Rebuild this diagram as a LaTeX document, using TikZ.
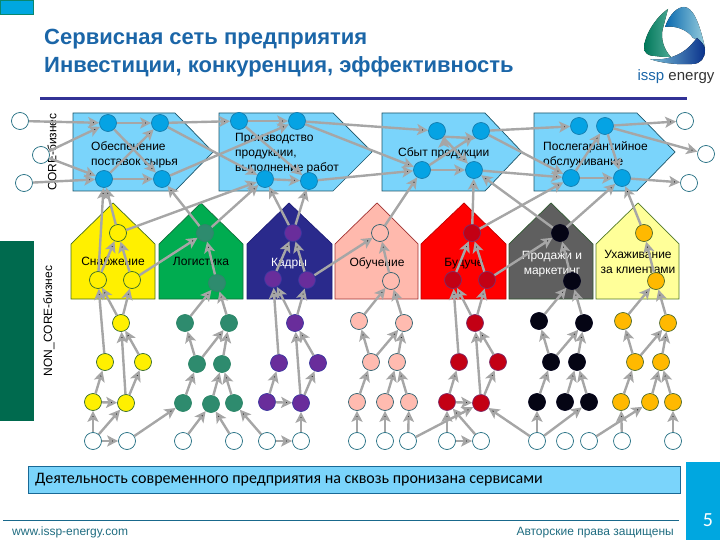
\documentclass[tikz,border=0pt]{standalone}
\usepackage{fontspec}
\setmainfont{Liberation Sans}
\newfontfamily\barfont{Carlito}
\usetikzlibrary{positioning,shapes,arrows.meta}

\definecolor{coreblue}{HTML}{7AD4FB}
\definecolor{coredot}{HTML}{05A3E4}
\definecolor{linegray}{HTML}{A6A6A6}
\definecolor{titleblue}{HTML}{1B66A8}
\definecolor{ringline}{HTML}{1F6C80}

\begin{document}
\begin{tikzpicture}[x=1pt,y=-1pt,
  on grid,
  corebox/.style={draw={rgb,255:red,30; green,85; blue,105},fill=coreblue,line width=0.7pt},
  house/.style={line width=0.7pt},
  dot/.style={circle,draw,minimum size=17pt,inner sep=0pt,line width=0.7pt},
  ring/.style={dot,draw=ringline,fill=white},
  coredotn/.style={dot,draw={rgb,255:red,20; green,125; blue,175},fill=coredot},
  yel/.style={dot,draw={rgb,255:red,50; green,105; blue,45},fill={rgb,255:red,255; green,240; blue,0}},
  grn/.style={dot,draw={rgb,255:red,45; green,135; blue,105},fill={rgb,255:red,46; green,139; blue,110}},
  pur/.style={dot,draw={rgb,255:red,60; green,55; blue,160},fill={rgb,255:red,105; green,45; blue,155}},
  pnk/.style={dot,draw={rgb,255:red,45; green,95; blue,110},fill={rgb,255:red,255; green,187; blue,176}},
  rdd/.style={dot,draw={rgb,255:red,125; green,45; blue,105},fill={rgb,255:red,195; green,0; blue,20}},
  blk/.style={dot,draw={rgb,255:red,5; green,5; blue,30},fill={rgb,255:red,5; green,5; blue,20}},
  org/.style={dot,draw={rgb,255:red,75; green,105; blue,45},fill={rgb,255:red,255; green,185; blue,0}},
  boxtext/.style={font=\fontsize{12}{15}\selectfont,align=left,anchor=west,inner sep=0pt},
  housetext/.style={font=\fontsize{12}{15}\selectfont,align=center,inner sep=0pt},
  houseone/.style={housetext,anchor=base},
  conn/.style={draw=linegray,line width=2.4pt,-{Stealth[length=11pt,width=11pt,inset=2.5pt]}}]
\useasboundingbox (0,0) rectangle (720,540);

% frame of the slide
\node[draw={rgb,255:red,10; green,135; blue,110},fill={rgb,255:red,0; green,167; blue,224},minimum width=33pt,minimum height=14pt,inner sep=0pt,anchor=north west] (corner) at (0,0) {};
\node[fill={rgb,255:red,0; green,106; blue,78},minimum width=34pt,minimum height=180pt,inner sep=0pt,anchor=north west] (noncorebar) at (0,241) {};
\node[font=\bfseries\fontsize{22}{28}\selectfont,text=titleblue,align=left,anchor=north west,inner sep=0pt] (title) at (44,29) {Сервисная сеть предприятия\\Инвестиции, конкуренция, эффективность};
\coordinate (headl) at (40,99);
\coordinate (headr) at (687,99);
\draw[line width=3pt,draw={rgb,255:red,50; green,50; blue,150}] (headl) -- (headr);
\node[rotate=90,font=\fontsize{12}{13}\selectfont,inner sep=0pt] (corelabel) at (52,152) {CORE-бизнес};
\node[rotate=90,font=\fontsize{12}{13}\selectfont,inner sep=0pt] (noncorelabel) at (49,321) {NON\_CORE-бизнес};

% logo
\fill[left color={rgb,255:red,10; green,105; blue,175},right color={rgb,255:red,150; green,205; blue,220}] (665,27) .. controls (670,13) and (678,7) .. (684,7) .. controls (692,7) and (699,20) .. (705,48) .. controls (702,42) and (698,39) .. (693,38) .. controls (688,30) and (675,25) .. (665,27) -- cycle;
\fill[left color={rgb,255:red,0; green,120; blue,90},right color={rgb,255:red,80; green,170; blue,150}] (668,9) .. controls (655,18) and (645,35) .. (644,47) .. controls (644,53) and (648,56) .. (655,56) .. controls (662,57) and (667,57) .. (671,57) .. controls (664,50) and (660,38) .. (663,28) -- (668,9) -- cycle;
\fill[left color={rgb,255:red,120; green,190; blue,215},right color={rgb,255:red,10; green,50; blue,140}] (650,59) .. controls (665,61) and (680,56) .. (690,46) .. controls (693,43) and (695,40) .. (697,38) .. controls (702,42) and (705,46) .. (705,50) .. controls (705,58) and (701,64) .. (692,64) .. controls (678,65) and (660,63) .. (650,59) -- cycle;
\node[font=\fontsize{15}{17}\selectfont,inner sep=0pt,anchor=base] (logotext) at (676,81) {\textcolor{titleblue}{issp} \textcolor{black!80}{energy}};

% core boxes
\draw[corebox] (73,113) -- (175,113) -- (213,152) -- (175,191) -- (73,191) -- cycle;
\draw[corebox] (219,113) -- (333,113) -- (372,152) -- (333,191) -- (219,191) -- cycle;
\draw[corebox] (382,113) -- (485,113) -- (522,152) -- (485,191) -- (382,191) -- cycle;
\draw[corebox] (534,113) -- (637,113) -- (675,152) -- (637,191) -- (534,191) -- cycle;
\node[boxtext] (lab1) at (91,154.5) {Обеспечение\\поставок сырья};
\node[boxtext] (lab2) at (235,153.5) {Производство\\продукции,\\выполнение работ};
\node[boxtext] (lab3) at (398,153) {Сбыт продукции};
\node[boxtext] (lab4) at (543,154.5) {Послегарантийное\\обслуживание};

% houses
\draw[house,draw={rgb,255:red,70; green,110; blue,30},fill={rgb,255:red,255; green,240; blue,0}] (71,299) -- (71,244) -- (113,203) -- (155,244) -- (155,299) -- cycle;
\draw[house,draw={rgb,255:red,20; green,110; blue,60},fill={rgb,255:red,0; green,172; blue,80}] (159,299) -- (159,244) -- (201,203) -- (243,244) -- (243,299) -- cycle;
\draw[house,draw={rgb,255:red,30; green,30; blue,120},fill={rgb,255:red,42; green,42; blue,140}] (247,299) -- (247,244) -- (289,203) -- (332,244) -- (332,299) -- cycle;
\draw[house,draw={rgb,255:red,160; green,50; blue,50},fill={rgb,255:red,255; green,185; blue,173}] (335,299) -- (335,244) -- (377,203) -- (418,244) -- (418,299) -- cycle;
\draw[house,draw={rgb,255:red,190; green,0; blue,0},fill=red] (421,299) -- (421,244) -- (464,203) -- (506,244) -- (506,299) -- cycle;
\draw[house,draw={rgb,255:red,50; green,90; blue,50},fill={rgb,255:red,95; green,95; blue,95}] (509,299) -- (509,244) -- (551,203) -- (593,244) -- (593,299) -- cycle;
\draw[house,draw={rgb,255:red,80; green,120; blue,40},fill={rgb,255:red,255; green,255; blue,153}] (596,299) -- (596,244) -- (638,203) -- (679,244) -- (679,299) -- cycle;
\node[houseone] (lab5) at (113,265) {Снабжение};
\node[houseone] (lab6) at (201,265.5) {Логистика};
\node[houseone,text=white] (lab7) at (289,266) {Кадры};
\node[houseone] (lab8) at (377,266) {Обучение};
\node[houseone] (lab9) at (464,266) {Будуче};
\node[housetext,text=white] (lab10) at (552,264.5) {Продажи и\\маркетинг};
\node[housetext] (lab11) at (638,262) {Ухаживание\\за клиентами};

% core
\node[ring] (eA) at (20,121) {};
\node[ring, below right=34pt and 21pt of eA] (eB) {};
\node[ring, below right=62pt and 4pt of eA] (eC) {};
\node[coredotn] (c1A) at (108,123) {};
\node[coredotn, right=52pt of c1A] (c1B) {};
\node[coredotn, below left=56pt and 4pt of c1A] (c1C) {};
\node[coredotn, right=58pt of c1C] (c1D) {};
\node[coredotn] (c2A) at (239,121) {};
\node[coredotn, right=58pt of c2A] (c2B) {};
\node[coredotn, below right=58pt and 26pt of c2A] (c2C) {};
\node[coredotn, below right=60pt and 12pt of c2B] (c2D) {};
\node[coredotn] (c3A) at (437,131) {};
\node[coredotn, right=44pt of c3A] (c3B) {};
\node[coredotn, below left=39pt and 15pt of c3A] (c3C) {};
\node[coredotn, right=52pt of c3C] (c3D) {};
\node[coredotn] (c4A) at (579,126) {};
\node[coredotn, right=26pt of c4A] (c4B) {};
\node[coredotn, below left=52pt and 8pt of c4A] (c4C) {};
\node[coredotn, right=51pt of c4C] (c4D) {};
\node[ring] (rA) at (685,121) {};
\node[ring, below right=33pt and 21pt of rA] (rB) {};
\node[ring, below right=62pt and 4pt of rA] (rC) {};

% yellow column
\node[yel] (yA) at (118,233) {};
\node[yel, below left=47pt and 20pt of yA] (yB) {};
\node[yel, below right=47pt and 14pt of yA] (yC) {};
\node[yel, below right=43pt and 23pt of yB] (yD) {};
\node[yel, below left=39pt and 16pt of yD] (yE) {};
\node[yel, below right=39pt and 22pt of yD] (yF) {};
\node[yel, below left=40pt and 12pt of yE] (yG) {};
\node[yel, below right=41pt and 21pt of yE] (yH) {};
\node[ring, below=39pt of yG] (yI) {};
\node[ring, below right=38pt and 1pt of yH] (yJ) {};

% green column
\node[grn] (gA) at (205,233) {};
\node[grn, below right=50pt and 12pt of gA] (gB) {};
\node[grn, below left=40pt and 32pt of gB] (gC) {};
\node[grn, below right=40pt and 12pt of gB] (gD) {};
\node[grn, below right=41pt and 12pt of gC] (gE) {};
\node[grn, right=25pt of gE] (gF) {};
\node[grn, below left=39pt and 14pt of gE] (gG) {};
\node[grn, below left=40pt and 11pt of gF] (gH) {};
\node[grn, below right=39pt and 12pt of gF] (gI) {};
\node[ring, below=38pt of gG] (gJ) {};
\node[ring, below=38pt of gI] (gK) {};

% purple column
\node[pur] (bA) at (293,233) {};
\node[pur, below left=46pt and 20pt of bA] (bB) {};
\node[pur, below right=47pt and 14pt of bA] (bC) {};
\node[pur, below right=44pt and 22pt of bB] (bD) {};
\node[pur, below left=40pt and 16pt of bD] (bE) {};
\node[pur, below right=40pt and 23pt of bD] (bF) {};
\node[pur, below left=39pt and 12pt of bE] (bG) {};
\node[pur, below right=40pt and 22pt of bE] (bH) {};
\node[ring, below=39pt of bG] (bI) {};
\node[ring, below=38pt of bH] (bJ) {};

% pink column
\node[pnk] (pA) at (380,233) {};
\node[pnk, below right=48pt and 11pt of pA] (pB) {};
\node[pnk, below left=40pt and 32pt of pB] (pC) {};
\node[pnk, below right=42pt and 13pt of pB] (pD) {};
\node[pnk, below right=41pt and 12pt of pC] (pE) {};
\node[pnk, right=26pt of pE] (pF) {};
\node[pnk, below left=40pt and 14pt of pE] (pG) {};
\node[pnk, below left=40pt and 12pt of pF] (pH) {};
\node[pnk, below right=40pt and 12pt of pF] (pI) {};
\node[ring, below=39pt of pG] (pJ) {};
\node[ring, below=39pt of pH] (pK) {};
\node[ring, below left=39pt and 1pt of pI] (pL) {};

% red column
\node[rdd] (dA) at (472,233) {};
\node[rdd, below left=47pt and 19pt of dA] (dB) {};
\node[rdd, below right=47pt and 15pt of dA] (dC) {};
\node[rdd, below right=43pt and 22pt of dB] (dD) {};
\node[rdd, below left=39pt and 16pt of dD] (dE) {};
\node[rdd, below right=39pt and 23pt of dD] (dF) {};
\node[rdd, below left=40pt and 12pt of dE] (dG) {};
\node[rdd, below right=41pt and 22pt of dE] (dH) {};
\node[ring, below=39pt of dG] (dI) {};
\node[ring, below=38pt of dH] (dJ) {};

% black column
\node[blk] (kA) at (560,233) {};
\node[blk, below right=48pt and 12pt of kA] (kB) {};
\node[blk, below left=40pt and 33pt of kB] (kC) {};
\node[blk, below right=42pt and 12pt of kB] (kD) {};
\node[blk, below right=41pt and 12pt of kC] (kE) {};
\node[blk, right=26pt of kE] (kF) {};
\node[blk, below left=40pt and 14pt of kE] (kG) {};
\node[blk, below left=40pt and 12pt of kF] (kH) {};
\node[blk, below right=40pt and 12pt of kF] (kI) {};
\node[ring, below=39pt of kG] (kJ) {};
\node[ring, below=39pt of kH] (kK) {};
\node[ring, below=39pt of kI] (kL) {};

% orange column
\node[org] (oA) at (644,233) {};
\node[org, below right=48pt and 12pt of oA] (oB) {};
\node[org, below left=40pt and 33pt of oB] (oC) {};
\node[org, below right=42pt and 12pt of oB] (oD) {};
\node[org, below right=41pt and 12pt of oC] (oE) {};
\node[org, right=26pt of oE] (oF) {};
\node[org, below left=40pt and 14pt of oE] (oG) {};
\node[org, below left=40pt and 11pt of oF] (oH) {};
\node[org, below right=40pt and 12pt of oF] (oI) {};
\node[ring, below right=39pt and 1pt of oG] (oJ) {};
\node[ring, below=39pt of oI] (oL) {};

\path[conn]
  (eA) edge (c1A)
  (eB) edge (c1A)
  (eB) edge (c1C)
  (eC) edge (c1C)
  (c1A) edge (c1B)
  (c1A) edge (c1D)
  (c1C) edge (c1B)
  (c1C) edge (c1D)
  (c1B) edge (c2A)
  (c1B) edge (c2C)
  (c1D) edge (c2B)
  (c2A) edge (c2B)
  (c2A) edge (c2D)
  (c2C) edge (c2D)
  (c2B) edge (c3A)
  (c2B) edge (c3C)
  (c2D) edge (c3C)
  (c3A) edge (c3D)
  (c3A.-40) edge (c3B.-125)
  (c3C) edge (c3B)
  (c3C) edge (c3D)
  (c3B) edge (c4A)
  (c3B) edge (c4C)
  (c3D) edge (c4C)
  (c4C) edge (c4B)
  (c4C) edge (c4D)
  (c4B) edge (c4D)
  (c4B) edge (rA)
  (c4B) edge (rB)
  (c4D) edge (rC);

\path[conn]
  (yB) edge (c1C)
  (yA) edge (c1C)
  (yA) edge (c2C)
  (yC) edge (yA)
  (yB) edge (yA)
  (yC) edge (gA)
  (gA) edge (c1D)
  (gA) edge (c2C)
  (gB) edge (gA)
  (bA) edge (c2C)
  (bA) edge (c2D)
  (bB) edge (bA)
  (bC) edge (bA)
  (bC) edge (pA)
  (pA) edge (c3C)
  (pB) edge (pA)
  (dA) edge (c3D)
  (dA) edge (c4C)
  (dB) edge (dA)
  (dC) edge (dA)
  (dC) edge (kA)
  (kA) edge (c3D)
  (kA) edge (c4D)
  (kB) edge (kA)
  (oA) edge (c4D)
  (oB) edge (oA);

\path[conn]
  (yE) edge (yB)
  (yD) edge (yB)
  (yD) edge (yC)
  (yF) edge (yD)
  (yH) edge (yD)
  (yG) edge (yE)
  (yG) edge (yH)
  (yH) edge (yF)
  (yI) edge (yG)
  (yI) edge (yH)
  (yI) edge (yJ)
  (yJ) edge (gG)
  (gC) edge (gB)
  (gD) edge (gB)
  (gE) edge (gC)
  (gE) edge (gD)
  (gF) edge (gD)
  (gG) edge (gE)
  (gH) edge (gF)
  (gI) edge (gF)
  (gJ) edge (gH)
  (gK) edge (gH)
  (bI) edge (gI)
  (bI) edge (bJ)
  (bJ) edge (bH)
  (bE) edge (bB)
  (bD) edge (bB)
  (bD) edge (bC)
  (bF) edge (bD)
  (bH) edge (bD)
  (bG) edge (bE)
  (bG) edge (bH)
  (bH) edge (bF)
  (pC) edge (pB)
  (pD) edge (pB)
  (pE) edge (pC)
  (pE) edge (pD)
  (pF) edge (pD)
  (pG) edge (pE)
  (pH) edge (pF)
  (pI) edge (pF)
  (pJ) edge (pG)
  (pK) edge (pH)
  (pL) edge (pI)
  (pL) edge (dH);

\path[conn]
  (dE) edge (dB)
  (dD) edge (dB)
  (dD) edge (dC)
  (dF) edge (dD)
  (dH) edge (dD)
  (dG) edge (dE)
  (dG) edge (dH)
  (dH) edge (dF)
  (dI) edge (dG)
  (dJ) edge (dG)
  (dI) edge (dJ)
  (kJ) edge (dH)
  (kJ) edge (kG)
  (kJ) edge (kI)
  (kC) edge (kB)
  (kD) edge (kB)
  (kE) edge (kC)
  (kE) edge (kD)
  (kF) edge (kD)
  (kG) edge (kE)
  (kH) edge (kF)
  (kI) edge (kF)
  (kL) edge (oH)
  (oJ) edge (oG)
  (oL) edge (oI)
  (oC) edge (oB)
  (oD) edge (oB)
  (oE) edge (oC)
  (oE) edge (oD)
  (oF) edge (oD)
  (oG) edge (oE)
  (oH) edge (oF)
  (oI) edge (oF);

% bottom
\node[draw={rgb,255:red,25; green,105; blue,150},fill=coreblue,minimum width=652pt,minimum height=27pt,inner sep=0pt,anchor=north west,line width=0.7pt] (note) at (28,466) {};
\node[font=\barfont\fontsize{16}{18}\selectfont,anchor=west,inner sep=0pt] (notetext) at (35,480) {Деятельность современного предприятия на сквозь пронизана сервисами};
\coordinate (footl) at (3,520);
\coordinate (footr) at (679,520);
\draw[draw={rgb,255:red,25; green,105; blue,140},line width=0.7pt] (footl) -- (footr);
\node[font=\fontsize{12}{13}\selectfont,text=ringline,anchor=base west,inner sep=0pt] (web) at (12,535) {www.issp-energy.com};
\node[font=\fontsize{12}{13}\selectfont,text=ringline,anchor=base east,inner sep=0pt] (rights) at (674,535) {Авторские права защищены};
\node[fill={rgb,255:red,0; green,167; blue,224},minimum width=34pt,minimum height=78pt,inner sep=0pt,anchor=north west] (pagebox) at (686,462) {};
\node[font=\barfont\fontsize{20}{22}\selectfont,text=white,inner sep=0pt] (pagenum) at (708,520) {5};
\end{tikzpicture}
\end{document}
